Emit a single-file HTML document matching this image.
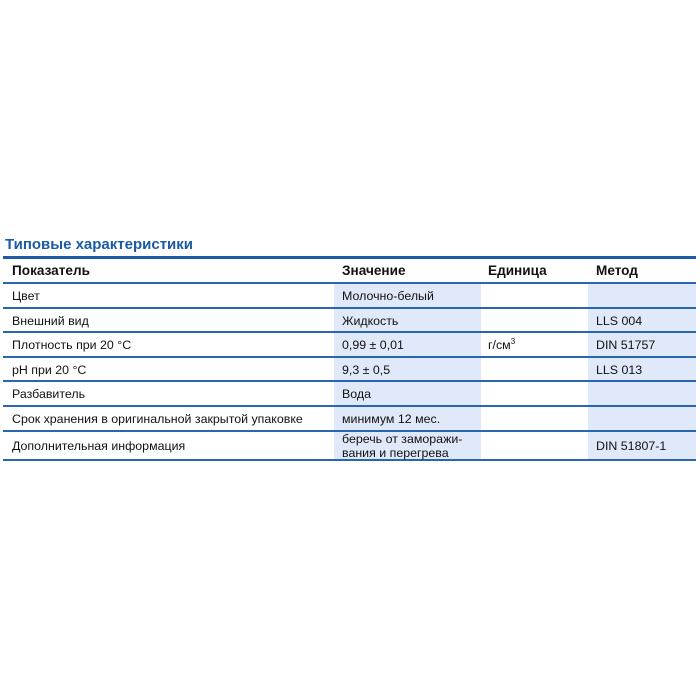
<!DOCTYPE html>
<html><head><meta charset="utf-8"><style>
body{margin:0;width:700px;height:700px;background:#fff;position:relative;font-family:"Liberation Sans","DejaVu Sans",sans-serif;color:#111;}
.t{position:absolute;left:5px;top:236px;font-size:15px;font-weight:bold;color:#1a5aa6;white-space:nowrap;}
.bar{position:absolute;left:3px;width:693px;top:256px;height:3px;background:#1d5ba8;}
.sh{position:absolute;background:#dfe9f9;}
.ln{position:absolute;left:3px;width:693px;height:2px;background:#2a66b0;}
.c{position:absolute;font-size:12.4px;white-space:nowrap;line-height:14px;}
.b{font-weight:bold;font-size:13.6px;}
</style></head><body>
<div class="t">Типовые характеристики</div>
<div class="bar"></div>
<div class="sh" style="left:334px;width:147px;top:284px;height:176px"></div>
<div class="sh" style="left:588px;width:108px;top:284px;height:176px"></div>
<div class="ln" style="top:282px"></div>
<div class="ln" style="top:307px"></div>
<div class="ln" style="top:331px"></div>
<div class="ln" style="top:356px"></div>
<div class="ln" style="top:380px"></div>
<div class="ln" style="top:405px"></div>
<div class="ln" style="top:430px"></div>
<div class="ln" style="top:459px"></div>

<div class="c b" style="left:12px;top:264px">Показатель</div>
<div class="c b" style="left:342px;top:264px">Значение</div>
<div class="c b" style="left:488px;top:264px">Единица</div>
<div class="c b" style="left:596px;top:264px">Метод</div>

<div class="c" style="left:12px;top:289px">Цвет</div>
<div class="c" style="left:342px;top:289px">Молочно-белый</div>

<div class="c" style="left:12px;top:314px">Внешний вид</div>
<div class="c" style="left:342px;top:314px">Жидкость</div>
<div class="c" style="left:596px;top:314px">LLS 004</div>

<div class="c" style="left:12px;top:338px">Плотность при 20 °C</div>
<div class="c" style="left:342px;top:338px">0,99 ± 0,01</div>
<div class="c" style="left:488px;top:338px">г/см<sup style="font-size:8px;line-height:0">3</sup></div>
<div class="c" style="left:596px;top:338px">DIN 51757</div>

<div class="c" style="left:12px;top:363px">pH при 20 °C</div>
<div class="c" style="left:342px;top:363px">9,3 ± 0,5</div>
<div class="c" style="left:596px;top:363px">LLS 013</div>

<div class="c" style="left:12px;top:387px">Разбавитель</div>
<div class="c" style="left:342px;top:387px">Вода</div>

<div class="c" style="left:12px;top:412px">Срок хранения в оригинальной закрытой упаковке</div>
<div class="c" style="left:342px;top:412px">минимум 12 мес.</div>

<div class="c" style="left:12px;top:439px">Дополнительная информация</div>
<div class="c" style="left:342px;top:432px;line-height:14px">беречь от заморажи-<br>вания и перегрева</div>
<div class="c" style="left:596px;top:439px">DIN 51807-1</div>
</body></html>
